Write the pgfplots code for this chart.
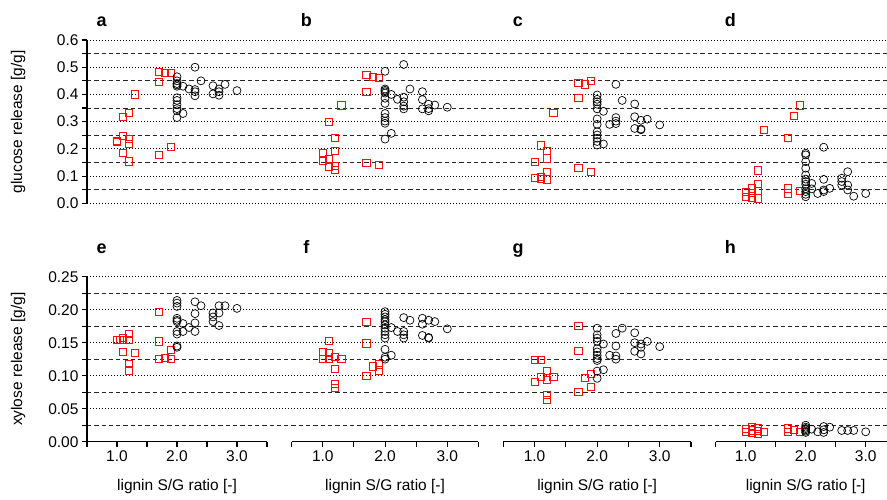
\documentclass[border=0pt]{standalone}
\usepackage{fontspec}
\setmainfont{Liberation Sans}
\setsansfont{Liberation Sans}
\usepackage{pgfplots}
\pgfplotsset{compat=1.18}
\pgfplotsset{
  /pgf/number format/assume math mode=true,
  every tick label/.append style={font=\fontsize{15.5}{18}\selectfont},
  every axis label/.append style={font=\fontsize{15.5}{18}\selectfont},
  panel/.style={scale only axis, clip=false, xmin=0.5, xmax=3.5, ymin=0},
  toppanel/.style={panel, ymax=0.6, height=163.3pt, hide axis},
  botpanel/.style={panel, ymax=0.25, height=165pt,
    axis x line=bottom, hide y axis,
    axis line style={-, line width=1.3pt},
    xtick={1,2,3}, xticklabels={1.0,2.0,3.0},
    minor xtick={0.5,1.5,2.5,3.5},
    tick align=outside, major tick length=5pt, minor tick length=5pt,
    every tick/.style={black, line width=1.1pt},
    xlabel={lignin S/G ratio [-]},
    xlabel style={at={(axis description cs:0.5,-0.2727)}, anchor=center}},
  sq/.style={only marks, mark=square, mark size=3.6pt,
    mark options={draw=red!95!white, line width=0.8pt, fill=none}},
  ci/.style={only marks, mark=o, mark size=4pt,
    mark options={draw=black, line width=0.7pt, fill=none}},
  bg/.style={scale only axis, width=800pt, xmin=0, xmax=1, ymin=0,
    hide x axis, axis y line=left,
    axis line style={-, line width=1.3pt},
    tick align=outside, major tick length=5pt, minor tick length=5pt,
    every tick/.style={black, line width=1.1pt},
    ymajorgrids, yminorgrids,
    major grid style={black, line width=0.8pt, dash pattern=on 0.9pt off 2.1pt},
    minor grid style={black!85, line width=0.8pt, dash pattern=on 4.3pt off 3pt},
    /pgf/number format/fixed, /pgf/number format/fixed zerofill},
}
\begin{document}
\begin{tikzpicture}
\path[use as bounding box] (0,0) rectangle (887pt,500pt);

% ---------- top row background ----------
\begin{axis}[bg, at={(87pt,296.7pt)}, anchor=south west, height=163.3pt, ymax=0.6,
  ytick={0,0.1,0.2,0.3,0.4,0.5,0.6},
  minor ytick={0.05,0.15,0.25,0.35,0.45,0.55},
  /pgf/number format/precision=1,
  ylabel={glucose release [g/g]},
  ylabel style={at={(axis description cs:-0.08625,0.5)}, anchor=center}]
\addplot[draw=none, forget plot] coordinates {(0,0)};
\end{axis}

% ---------- bottom row background ----------
\begin{axis}[bg, at={(87pt,58.3pt)}, anchor=south west, height=165pt, ymax=0.25,
  ytick={0.05,0.10,0.15,0.20,0.25},
  extra y ticks={0}, extra y tick style={grid=none},
  minor ytick={0.025,0.075,0.125,0.175,0.225},
  /pgf/number format/precision=2,
  ylabel={xylose release [g/g]},
  ylabel style={at={(axis description cs:-0.08625,0.5)}, anchor=center}]
\addplot[draw=none, forget plot] coordinates {(0,0)};
\end{axis}

% ---------- panel a ----------
\begin{axis}[toppanel, at={(87pt,296.7pt)}, anchor=south west, width=180pt]
\addplot[sq] coordinates {(1.3,0.40)(1.1,0.318)(1.2,0.331)(1.1,0.249)(1.0,0.229)(1.0,0.226)(1.2,0.236)(1.2,0.218)(1.1,0.185)(1.2,0.154)(1.7,0.483)(1.8,0.479)(1.9,0.478)(1.7,0.447)(1.7,0.179)(1.9,0.206)};
\addplot[ci] coordinates {(2.0,0.465)(2.0,0.45)(2.0,0.44)(2.0,0.435)(2.0,0.43)(2.0,0.388)(2.0,0.378)(2.0,0.362)(2.0,0.348)(2.0,0.34)(2.0,0.315)(2.1,0.43)(2.1,0.33)(2.2,0.42)(2.3,0.5)(2.3,0.418)(2.3,0.41)(2.3,0.395)(2.4,0.45)(2.6,0.432)(2.6,0.402)(2.7,0.42)(2.7,0.41)(2.7,0.397)(2.8,0.437)(3.0,0.414)};
\end{axis}

% ---------- panel b ----------
\begin{axis}[toppanel, at={(291.7pt,296.7pt)}, anchor=south west, width=186.7pt]
\addplot[sq] coordinates {(1.3,0.36)(1.1,0.298)(1.2,0.239)(1.2,0.192)(1.0,0.184)(1.0,0.156)(1.1,0.163)(1.1,0.135)(1.2,0.137)(1.2,0.124)(1.7,0.473)(1.8,0.464)(1.9,0.46)(1.7,0.408)(1.7,0.147)(1.9,0.14)};
\addplot[ci] coordinates {(2.0,0.485)(2.0,0.42)(2.0,0.415)(2.0,0.41)(2.0,0.405)(2.0,0.386)(2.0,0.367)(2.0,0.33)(2.0,0.315)(2.0,0.302)(2.0,0.294)(2.0,0.236)(2.1,0.40)(2.1,0.257)(2.2,0.382)(2.3,0.51)(2.3,0.39)(2.3,0.373)(2.3,0.357)(2.3,0.347)(2.4,0.42)(2.6,0.41)(2.6,0.381)(2.6,0.347)(2.7,0.364)(2.7,0.348)(2.7,0.34)(2.8,0.361)(3.0,0.353)};
\end{axis}

% ---------- panel c ----------
\begin{axis}[toppanel, at={(503.3pt,296.7pt)}, anchor=south west, width=187.7pt]
\addplot[sq] coordinates {(1.3,0.332)(1.1,0.213)(1.2,0.193)(1.2,0.165)(1.0,0.152)(1.0,0.094)(1.1,0.098)(1.1,0.091)(1.2,0.114)(1.2,0.088)(1.7,0.443)(1.8,0.437)(1.9,0.45)(1.7,0.388)(1.7,0.131)(1.9,0.115)};
\addplot[ci] coordinates {(2.0,0.398)(2.0,0.382)(2.0,0.373)(2.0,0.364)(2.0,0.347)(2.0,0.31)(2.0,0.29)(2.0,0.263)(2.0,0.251)(2.0,0.239)(2.0,0.227)(2.0,0.214)(2.1,0.338)(2.1,0.218)(2.2,0.29)(2.3,0.437)(2.3,0.315)(2.3,0.302)(2.3,0.293)(2.4,0.378)(2.6,0.365)(2.6,0.318)(2.6,0.275)(2.7,0.305)(2.7,0.273)(2.7,0.27)(2.8,0.309)(3.0,0.288)};
\end{axis}

% ---------- panel d ----------
\begin{axis}[toppanel, at={(715.7pt,296.7pt)}, anchor=south west, width=180pt]
\addplot[sq] coordinates {(1.3,0.27)(1.2,0.121)(1.2,0.071)(1.2,0.045)(1.2,0.018)(1.0,0.043)(1.0,0.024)(1.1,0.055)(1.1,0.037)(1.1,0.021)(1.9,0.36)(1.8,0.32)(1.7,0.24)(1.7,0.055)(1.7,0.036)(1.9,0.045)};
\addplot[ci] coordinates {(2.0,0.184)(2.0,0.178)(2.0,0.153)(2.0,0.129)(2.0,0.104)(2.0,0.089)(2.0,0.08)(2.0,0.07)(2.0,0.053)(2.0,0.043)(2.0,0.033)(2.0,0.024)(2.1,0.073)(2.1,0.053)(2.2,0.036)(2.3,0.206)(2.3,0.088)(2.3,0.049)(2.3,0.043)(2.4,0.055)(2.6,0.092)(2.6,0.08)(2.6,0.067)(2.7,0.116)(2.7,0.067)(2.7,0.049)(2.8,0.026)(3.0,0.036)};
\end{axis}

% ---------- panel e ----------
\begin{axis}[botpanel, at={(87pt,58.3pt)}, anchor=south west, width=180pt]
\addplot[sq] coordinates {(1.0,0.154)(1.05,0.154)(1.1,0.157)(1.1,0.154)(1.2,0.163)(1.2,0.154)(1.1,0.136)(1.3,0.135)(1.2,0.118)(1.2,0.108)(1.7,0.197)(1.7,0.152)(1.7,0.125)(1.8,0.127)(1.9,0.139)(1.9,0.125)};
\addplot[ci] coordinates {(2.0,0.214)(2.0,0.21)(2.0,0.205)(2.0,0.187)(2.0,0.184)(2.0,0.182)(2.0,0.167)(2.0,0.163)(2.0,0.145)(2.0,0.143)(2.1,0.179)(2.1,0.167)(2.2,0.173)(2.3,0.212)(2.3,0.194)(2.3,0.18)(2.3,0.167)(2.4,0.206)(2.6,0.195)(2.6,0.189)(2.6,0.182)(2.7,0.206)(2.7,0.195)(2.7,0.176)(2.8,0.206)(3.0,0.202)};
\end{axis}

% ---------- panel f ----------
\begin{axis}[botpanel, at={(291.7pt,58.3pt)}, anchor=south west, width=186.7pt]
\addplot[sq] coordinates {(1.1,0.153)(1.0,0.136)(1.0,0.125)(1.1,0.134)(1.1,0.126)(1.2,0.128)(1.3,0.125)(1.2,0.11)(1.2,0.087)(1.2,0.081)(1.7,0.182)(1.7,0.149)(1.7,0.1)(1.8,0.114)(1.9,0.117)(1.9,0.108)};
\addplot[ci] coordinates {(2.0,0.197)(2.0,0.193)(2.0,0.189)(2.0,0.185)(2.0,0.182)(2.0,0.177)(2.0,0.172)(2.0,0.167)(2.0,0.162)(2.0,0.157)(2.0,0.14)(2.0,0.128)(2.0,0.125)(2.1,0.173)(2.1,0.131)(2.2,0.167)(2.3,0.188)(2.3,0.167)(2.3,0.162)(2.3,0.157)(2.4,0.184)(2.6,0.187)(2.6,0.178)(2.6,0.161)(2.7,0.184)(2.7,0.158)(2.7,0.157)(2.8,0.182)(3.0,0.171)};
\end{axis}

% ---------- panel g ----------
\begin{axis}[botpanel, at={(503.3pt,58.3pt)}, anchor=south west, width=187.7pt]
\addplot[sq] coordinates {(1.0,0.124)(1.1,0.124)(1.1,0.098)(1.0,0.09)(1.2,0.107)(1.2,0.094)(1.3,0.098)(1.2,0.071)(1.2,0.063)(1.7,0.176)(1.7,0.137)(1.7,0.076)(1.8,0.097)(1.9,0.103)(1.9,0.083)};
\addplot[ci] coordinates {(2.0,0.172)(2.0,0.162)(2.0,0.157)(2.0,0.152)(2.0,0.141)(2.0,0.136)(2.0,0.131)(2.0,0.126)(2.0,0.123)(2.0,0.107)(2.0,0.096)(2.1,0.148)(2.1,0.109)(2.2,0.131)(2.3,0.164)(2.3,0.145)(2.3,0.13)(2.3,0.125)(2.4,0.172)(2.6,0.165)(2.6,0.15)(2.6,0.137)(2.7,0.148)(2.7,0.143)(2.7,0.133)(2.8,0.152)(3.0,0.144)};
\end{axis}

% ---------- panel h ----------
\begin{axis}[botpanel, at={(715.7pt,58.3pt)}, anchor=south west, width=180pt]
\addplot[sq] coordinates {(1.0,0.015)(1.0,0.019)(1.1,0.023)(1.1,0.013)(1.2,0.02)(1.2,0.012)(1.3,0.015)(1.7,0.02)(1.7,0.015)(1.8,0.018)(1.9,0.015)(1.1,0.017)(1.2,0.016)};
\addplot[ci] coordinates {(2.0,0.025)(2.0,0.022)(2.0,0.02)(2.0,0.018)(2.0,0.016)(2.0,0.014)(2.1,0.019)(2.2,0.015)(2.3,0.023)(2.3,0.018)(2.3,0.014)(2.4,0.022)(2.6,0.017)(2.7,0.017)(2.8,0.017)(3.0,0.015)};
\end{axis}

% ---------- panel letters ----------
\begin{scope}[every node/.style={font=\bfseries\fontsize{18}{20}\selectfont, anchor=base}]
\node at (101.7pt,473.5pt) {a};
\node at (306.4pt,473.5pt) {b};
\node at (518pt,473.5pt) {c};
\node at (730.4pt,473.5pt) {d};
\node at (101.7pt,246pt) {e};
\node at (306.4pt,246pt) {f};
\node at (518pt,246pt) {g};
\node at (730.4pt,246pt) {h};
\end{scope}
\end{tikzpicture}
\end{document}
